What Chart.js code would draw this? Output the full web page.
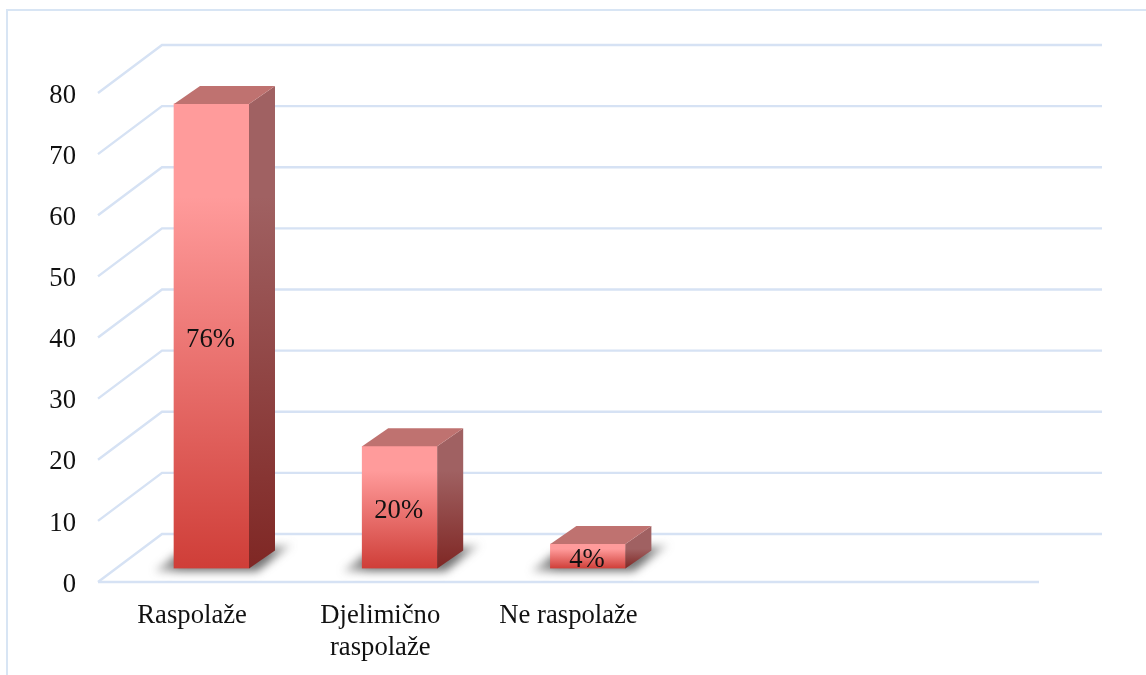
<!DOCTYPE html>
<html>
<head>
<meta charset="utf-8">
<title>Raspolaže</title>
<script src="https://cdn.jsdelivr.net/npm/chart.js@4"></script>
<style>
    html, body { margin: 0; padding: 0; background: #fff; overflow: hidden; }
    #frame { position: absolute; left: 6px; top: 9px; right: 0; bottom: 0; border-left: 2px solid #d8e5f4; border-top: 2px solid #d8e5f4; }
    #wrap { position: absolute; left: 0; top: 0; width: 1146px; height: 675px; }
</style>
</head>
<body>
<div id="frame"></div>
<div id="wrap"><canvas id="chart" width="1146" height="675"></canvas></div>
<script>
// two empty categories keep the bars on the left like the original
const categories = ['Raspolaže', ['Djelimično', 'raspolaže'], 'Ne raspolaže', '', ''];
const values = [76, 20, 4, null, null];
const barLabels = ['76%', '20%', '4%', '', ''];
const yTicks = [0, 10, 20, 30, 40, 50, 60, 70, 80];

const font = 'Liberation Serif';
const fontSize = 26.67;
const gridColor = '#d6e2f4';
const wall = { dx: 64, dy: -48 };    // back wall offset
const depth = { dx: 26, dy: -18 };   // bar depth
const shift = { dx: 19.4, dy: -13.5 }; // bars stand in the middle of the floor

function vGradient(ctx, top, bottom, c1, c2) {
    const g = ctx.createLinearGradient(0, top, 0, bottom);
    g.addColorStop(0, c1);
    g.addColorStop(0.2, c1);
    g.addColorStop(1, c2);
    return g;
}

const box3d = {
    id: 'box3d',
    beforeDatasetsDraw(chart) {
        const { ctx, scales: { x, y } } = chart;
        ctx.save();
        ctx.strokeStyle = gridColor;
        ctx.lineWidth = 2.4;
        yTicks.forEach(t => {
            const py = y.getPixelForValue(t);
            ctx.beginPath();
            ctx.moveTo(x.left, py);
            ctx.lineTo(x.left + wall.dx, py + wall.dy);
            ctx.lineTo(x.right + wall.dx - 1, py + wall.dy);
            ctx.stroke();
        });
        const floor = y.getPixelForValue(0);
        ctx.beginPath();
        ctx.moveTo(x.left, floor);
        ctx.lineTo(x.right, floor);
        ctx.stroke();
        ctx.restore();
    },
    beforeDatasetDraw(chart, args) {
        const { ctx } = chart;
        const bars = chart.getDatasetMeta(args.index).data;
        // soft shadows on the floor
        ctx.save();
        ctx.filter = 'blur(4px)';
        bars.forEach((b, i) => {
            if (values[i] === null) return;
            const l = b.x - b.width / 2 + shift.dx;
            const r = b.x + b.width / 2 + shift.dx;
            const f = b.base + shift.dy;
            const g = ctx.createLinearGradient(l - 22, 0, r + 46, 0);
            g.addColorStop(0, 'rgba(70,70,70,0.2)');
            g.addColorStop(0.2, 'rgba(70,70,70,0.75)');
            g.addColorStop(0.8, 'rgba(70,70,70,0.75)');
            g.addColorStop(1, 'rgba(70,70,70,0.1)');
            ctx.fillStyle = g;
            ctx.beginPath();
            ctx.moveTo(l - 20, f + 3);
            ctx.lineTo(l + 2, f - 14);
            ctx.lineTo(r + depth.dx + 18, f - 24);
            ctx.lineTo(r + 8, f + 3);
            ctx.closePath();
            ctx.fill();
        });
        ctx.restore();
        ctx.save();
        ctx.translate(shift.dx, shift.dy);
    },
    afterDatasetDraw(chart, args) {
        const { ctx } = chart;
        const bars = chart.getDatasetMeta(args.index).data;
        bars.forEach((b, i) => {
            if (values[i] === null) return;
            const l = b.x - b.width / 2;
            const r = b.x + b.width / 2;
            // side face
            ctx.fillStyle = vGradient(ctx, b.y, b.base, '#a06162', '#7f2724');
            ctx.beginPath();
            ctx.moveTo(r, b.y);
            ctx.lineTo(r + depth.dx, b.y + depth.dy);
            ctx.lineTo(r + depth.dx, b.base + depth.dy);
            ctx.lineTo(r, b.base);
            ctx.closePath();
            ctx.fill();
            // top face
            ctx.fillStyle = '#bf7270';
            ctx.beginPath();
            ctx.moveTo(l, b.y);
            ctx.lineTo(l + depth.dx, b.y + depth.dy);
            ctx.lineTo(r + depth.dx, b.y + depth.dy);
            ctx.lineTo(r, b.y);
            ctx.closePath();
            ctx.fill();
            // value label
            ctx.fillStyle = '#111';
            ctx.font = fontSize + 'px "' + font + '"';
            ctx.textAlign = 'center';
            ctx.textBaseline = 'middle';
            ctx.fillText(barLabels[i], b.x - 1, (b.y + b.base) / 2 + 4);
        });
        ctx.restore();
    }
};

new Chart(document.getElementById('chart'), {
    type: 'bar',
    data: {
        labels: categories,
        datasets: [{
            data: values,
            barThickness: 75,
            borderWidth: 0,
            backgroundColor: c => {
                const { chart, parsed } = c;
                if (!chart.chartArea || !parsed || parsed.y === null) return '#d0403a';
                const y = chart.scales.y;
                return vGradient(chart.ctx, y.getPixelForValue(parsed.y), y.getPixelForValue(0), '#ff9b9b', '#cf3e38');
            }
        }]
    },
    options: {
        responsive: false,
        animation: false,
        layout: { padding: { top: 93, right: 107, bottom: 0, left: 0 } },
        plugins: { legend: { display: false }, tooltip: { enabled: false } },
        scales: {
            x: {
                grid: { display: false },
                border: { display: false },
                afterFit: s => { s.height = 93; },
                ticks: {
                    color: '#111',
                    font: { family: font, size: fontSize, lineHeight: 1.2 },
                    padding: 10,
                    maxRotation: 0,
                    autoSkip: false
                }
            },
            y: {
                min: 0,
                max: 80,
                grid: { display: false },
                border: { display: false },
                afterFit: s => { s.width = 98; },
                afterBuildTicks: s => { s.ticks = yTicks.map(v => ({ value: v })); },
                ticks: {
                    color: '#111',
                    // empty first line with a tiny line height nudges the digits down a little
                    callback: v => ['', String(v)],
                    font: { family: font, size: fontSize, lineHeight: 0.2 },
                    padding: 14
                }
            }
        }
    },
    plugins: [box3d]
});
</script>
</body>
</html>
